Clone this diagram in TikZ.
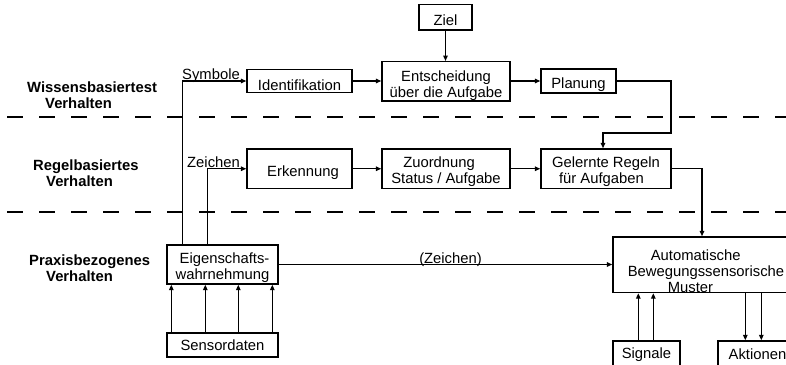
\documentclass[tikz,border=0pt]{standalone}
\usepackage{fontspec}
\setmainfont{Liberation Sans}
\usetikzlibrary{arrows.meta}
% text block inside a box: optional column alignment, downward shift in pt, lines
\newcommand\boxtext[3][c]{\raisebox{-#2pt}[\height][\depth]{\begin{tabular}{@{}#1@{}}#3\end{tabular}}}
\begin{document}
\begin{tikzpicture}[x=1pt,y=-1pt,
  every node/.style={font=\fontsize{14.8}{16}\selectfont, inner sep=0pt},
  blk/.style={draw, rectangle, line width=1.4pt, inner sep=0pt},
  conn/.style={line width=1.35pt, -{Triangle[length=5.5pt,width=4.5pt]}},
  layer/.style={line width=1.5pt, dash pattern=on 16pt off 16pt},
  level/.style={font=\fontsize{14.8}{16}\selectfont\bfseries, anchor=base west}]
\useasboundingbox (0,0) rectangle (786,364);
\clip (0,0) rectangle (786,364);

% layer separators
\draw[layer] (7,117) -- (786,117);
\draw[layer] (7,212) -- (786,212);

% level names
\node[level] (wiss) at (27,92.3) {\begin{tabular}[t]{@{}l@{}}Wissensbasiertest\\\hspace*{18pt}Verhalten\end{tabular}};
\node[level] (regel) at (33,170) {\begin{tabular}[t]{@{}l@{}}Regelbasiertes\\\hspace*{13pt}Verhalten\end{tabular}};
\node[level] (praxis) at (29,265.7) {\begin{tabular}[t]{@{}l@{}}Praxisbezogenes\\\hspace*{17pt}Verhalten\end{tabular}};

% blocks
\node[blk, minimum width=53pt, minimum height=25.7pt] (ziel) at (445.5,17.15) {\boxtext{5.3}{Ziel}};
\node[blk, minimum width=128pt, minimum height=39.3pt] (ent) at (446,81.35) {\boxtext{4.8}{Entscheidung\\über die Aufgabe}};
\node[blk, minimum width=75pt, minimum height=24pt] (plan) at (578.5,81) {\boxtext{3.8}{Planung}};
\node[blk, minimum width=105pt, minimum height=23pt] (ident) at (299.5,81) {\boxtext{6.6}{Identifikation}};
\node[blk, minimum width=105pt, minimum height=39.5pt] (erk) at (299.5,168.75) {\boxtext{4.8}{\hspace*{7pt}Erkennung}};
\node[blk, minimum width=128pt, minimum height=39.5pt] (zuord) at (446,168.75) {\boxtext[l]{4}{\hspace*{12pt}Zuordnung\\Status / Aufgabe}};
\node[blk, minimum width=130pt, minimum height=39.5pt] (gelernt) at (606,168.75) {\boxtext[l]{3.4}{Gelernte Regeln\\\hspace*{7pt}für Aufgaben}};
\node[blk, minimum width=111pt, minimum height=39pt] (eig) at (222.5,264.5) {\boxtext[r]{4}{Eigenschafts-\\wahrnehmung}};
\node[blk, minimum width=111pt, minimum height=24pt] (sens) at (222.5,345) {\boxtext{2.3}{Sensordaten}};
\node[blk, minimum width=186pt, minimum height=55.5pt] (auto) at (706,264.75) {\boxtext[l]{8.5}{\hspace*{23pt}Automatische\\Bewegungssensorische\\\hspace*{40pt}Muster}};
\node[blk, minimum width=67pt, minimum height=36pt] (sig) at (646.5,359) {\boxtext{-4.2}{Signale}};
\node[blk, minimum width=79pt, minimum height=36pt] (akt) at (757.5,359) {\boxtext{-3.2}{Aktionen}};

% connector labels
\node[anchor=base west] (symlbl) at (182,79) {Symbole};
\node[anchor=base west] (zlbl) at (187,167) {Zeichen};
\node[anchor=base] (zeichenlbl) at (450.5,263) {(Zeichen)};

% knowledge level
\draw[conn] (ziel.south) -- (ziel.south |- ent.north);
\draw[conn] (ident.east) -- (ident.east -| ent.west);
\draw[conn] (ent.east |- plan.east) -- (plan.west);
\coordinate (turnA) at (671,133);
\coordinate (turnB) at (603,133);
\draw[conn] (plan.east) -| (turnA) -- (turnB) -- (turnB |- gelernt.north);

% rule level
\draw[conn] (erk) -- (zuord);
\draw[conn] (zuord) -- (gelernt);
\draw[conn] (gelernt.east) -| ([xshift=-4pt]auto.north);

% feature perception upwards
\draw[conn] ([xshift=16pt]eig.north west) |- (ident.west);
\draw[conn] ([xshift=41.5pt]eig.north west) |- (erk.west);
\draw[conn] (eig.east) -- (eig.east -| auto.west);

% sensor data into feature perception
\foreach \o in {5,39,72,106}
  \draw[conn] ([xshift=\o pt]sens.north west) -- ([xshift=\o pt]eig.south west);

% signals and actions
\foreach \o in {26,41}
  \draw[conn] ([xshift=\o pt]sig.north west) -- ([xshift=\o pt]sig.north west |- auto.south);
\foreach \o in {28,44}
  \draw[conn] ([xshift=\o pt]akt.north west |- auto.south) -- ([xshift=\o pt]akt.north west);
\end{tikzpicture}
\end{document}
